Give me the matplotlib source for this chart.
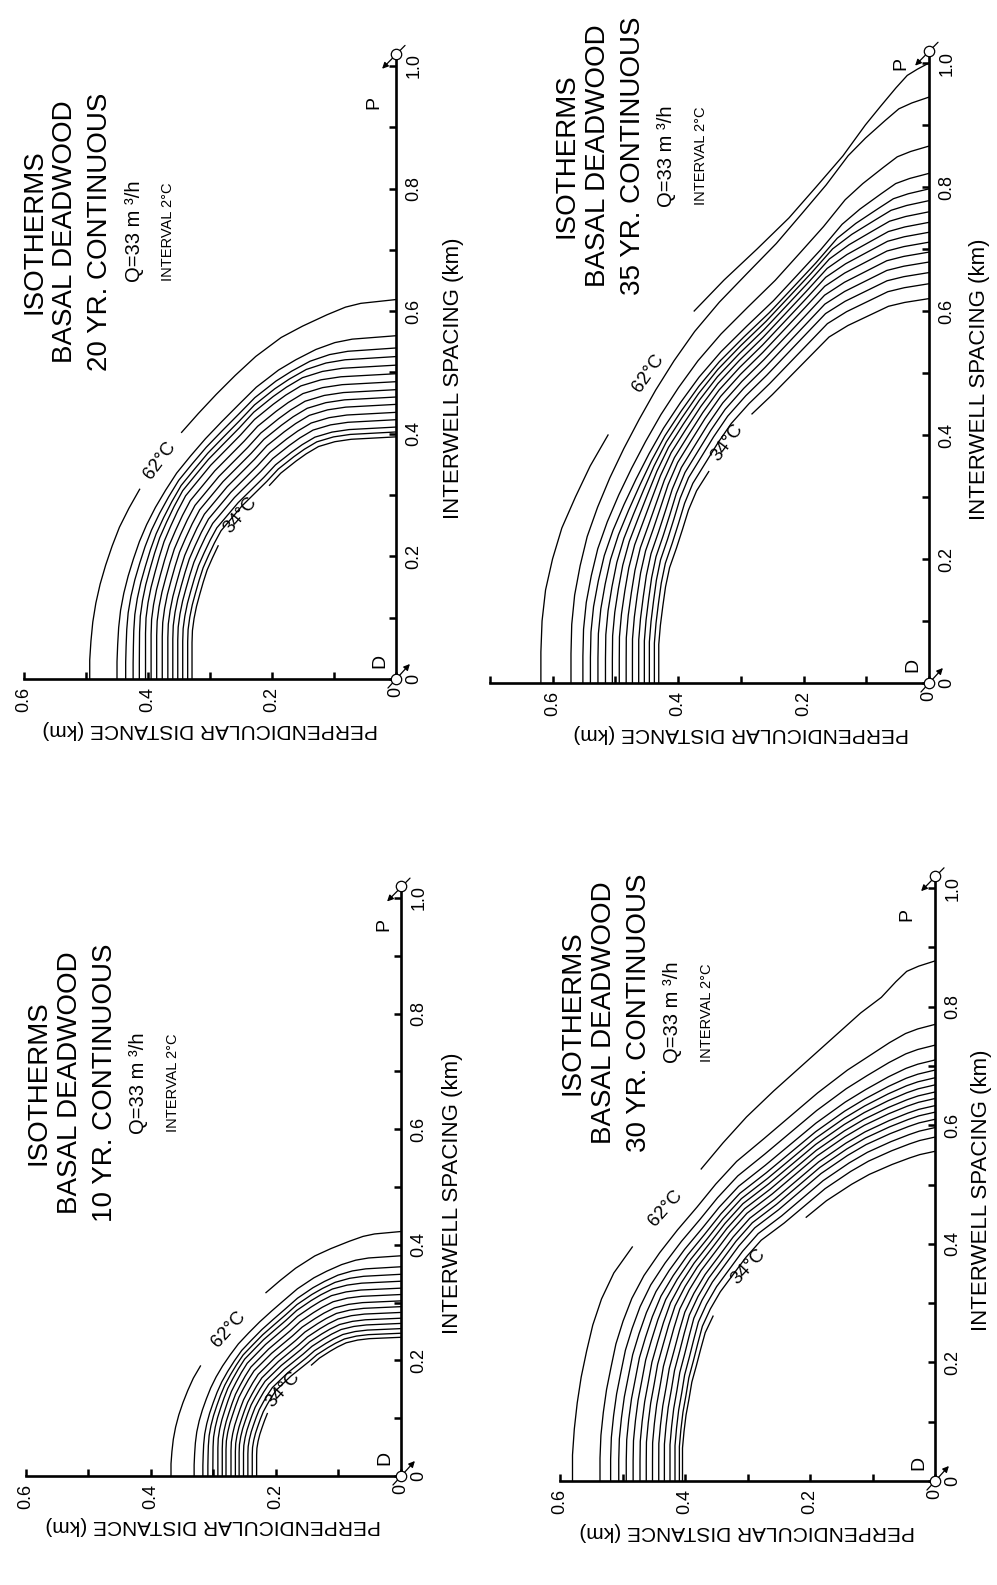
import numpy as np
import matplotlib
matplotlib.use('Agg')
import matplotlib.pyplot as plt
from matplotlib.transforms import offset_copy

W, H = 997, 1585
FONT = ['Liberation Sans', 'DejaVu Sans']

# isotherms, outermost first (interval 2 C)
temps = [62, 60, 58, 56, 54, 52, 50, 48, 46, 44, 42, 40, 38, 36, 34]

# intercepts of each isotherm: b on the perpendicular axis, a on the interwell axis (km)
b_10 = [0.368, 0.331, 0.317, 0.309, 0.301, 0.293, 0.286, 0.280, 0.272, 0.265, 0.259, 0.252, 0.245, 0.238, 0.231]
a_10 = [0.423, 0.381, 0.362, 0.349, 0.337, 0.325, 0.314, 0.303, 0.293, 0.283, 0.273, 0.264, 0.255, 0.247, 0.240]
b_20 = [0.494, 0.450, 0.436, 0.424, 0.414, 0.404, 0.395, 0.386, 0.377, 0.368, 0.360, 0.352, 0.344, 0.336, 0.329]
a_20 = [0.619, 0.560, 0.540, 0.526, 0.512, 0.498, 0.485, 0.472, 0.460, 0.448, 0.435, 0.423, 0.411, 0.403, 0.395]
b_30 = [0.580, 0.536, 0.519, 0.506, 0.494, 0.483, 0.472, 0.462, 0.452, 0.442, 0.433, 0.424, 0.416, 0.409, 0.404]
a_30 = [0.877, 0.770, 0.735, 0.710, 0.693, 0.680, 0.668, 0.656, 0.645, 0.633, 0.622, 0.610, 0.596, 0.580, 0.556]
b_35 = [0.619, 0.571, 0.552, 0.540, 0.528, 0.516, 0.505, 0.494, 0.483, 0.473, 0.463, 0.454, 0.446, 0.438, 0.431]
a_35 = [1.000, 0.945, 0.866, 0.822, 0.797, 0.778, 0.760, 0.743, 0.727, 0.711, 0.695, 0.679, 0.662, 0.644, 0.620]

# traced isotherm shapes: perp / b read at spacing / a = u
u_grid = [0, 0.05, 0.1, 0.15, 0.2, 0.25, 0.3, 0.35, 0.4, 0.45, 0.5, 0.55,
          0.6, 0.65, 0.7, 0.75, 0.8, 0.85, 0.9, 0.93, 0.96, 0.98, 0.99, 1.0]
round_out = [1, 1, 0.996, 0.99, 0.98, 0.966, 0.948, 0.927, 0.903, 0.872, 0.837, 0.795,
             0.75, 0.70, 0.645, 0.587, 0.525, 0.458, 0.375, 0.305, 0.225, 0.165, 0.115, 0]
round_in = [1, 1, 1, 1, 0.998, 0.99, 0.978, 0.962, 0.945, 0.926, 0.90, 0.872,
            0.84, 0.79, 0.74, 0.68, 0.62, 0.565, 0.49, 0.44, 0.38, 0.30, 0.22, 0]
out30 = [1, 1, 0.995, 0.987, 0.976, 0.961, 0.944, 0.92, 0.886, 0.835, 0.775, 0.71,
         0.645, 0.585, 0.52, 0.445, 0.365, 0.285, 0.205, 0.148, 0.108, 0.078, 0.045, 0]
in30 = [1, 1, 1, 0.994, 0.986, 0.974, 0.963, 0.945, 0.928, 0.91, 0.879, 0.84,
        0.79, 0.74, 0.68, 0.59, 0.51, 0.43, 0.33, 0.26, 0.17, 0.10, 0.06, 0]
out35 = [1, 1, 0.997, 0.988, 0.970, 0.946, 0.911, 0.873, 0.827, 0.775, 0.722, 0.668,
         0.605, 0.528, 0.443, 0.361, 0.291, 0.222, 0.164, 0.125, 0.085, 0.056, 0.03, 0]
in35 = [1, 1, 1, 0.994, 0.985, 0.975, 0.96, 0.935, 0.912, 0.89, 0.86, 0.815,
        0.77, 0.72, 0.655, 0.58, 0.51, 0.44, 0.37, 0.30, 0.21, 0.15, 0.09, 0]
# how much each isotherm follows the outer (62 C) shape rather than the inner one
w_10 = [1, 0.6, 0.4, 0.25, 0.1, 0, 0, 0, 0, 0, 0, 0, 0, 0, 0]
w_20 = [1, 0.6, 0.4, 0.25, 0.1, 0, 0, 0, 0, 0, 0, 0, 0, 0, 0]
w_30 = [1, 0.55, 0.45, 0.37, 0.3, 0.24, 0.18, 0.13, 0.09, 0.06, 0.03, 0, 0, 0, 0]
w_35 = [1, 0.7, 0.62, 0.55, 0.45, 0.35, 0.27, 0.2, 0.14, 0.09, 0.05, 0.02, 0, 0, 0]

spacing_ticks = [0, 0.2, 0.4, 0.6, 0.8, 1.0]
spacing_labels = ['0', '0.2', '0.4', '0.6', '0.8', '1.0']
perp_ticks = [0, 0.2, 0.4, 0.6]
perp_labels = ['0', '0.2', '0.4', '0.6']

panels = [
    dict(yr=20, b=b_20, a=a_20, w=w_20, fo=round_out, fi=round_in,
         gap62=(0.5, 0.65), gap34=(0.55, 0.8), ox=396, oy=679, kx=620, ky=613,
         perp_end=0.6, title_s=0.73, p_lab=(0.035, 0.94), xlab_dx=57),
    dict(yr=35, b=b_35, a=a_35, w=w_35, fo=out35, fi=in35,
         gap62=(0.4, 0.6), gap34=(0.55, 0.7), ox=929, oy=683, kx=627, ky=620,
         perp_end=0.7, title_s=0.85, p_lab=(0.045, 1.0), xlab_dx=50),
    dict(yr=10, b=b_10, a=a_10, w=w_10, fo=round_out, fi=round_in,
         gap62=(0.45, 0.75), gap34=(0.45, 0.8), ox=401, oy=1476, kx=625, ky=578,
         perp_end=0.6, title_s=0.68, p_lab=(0.028, 0.955), xlab_dx=52),
    dict(yr=30, b=b_30, a=a_30, w=w_30, fo=out30, fi=in30,
         gap62=(0.45, 0.6), gap34=(0.5, 0.8), ox=935, oy=1481, kx=625, ky=593,
         perp_end=0.6, title_s=0.79, p_lab=(0.045, 0.955), xlab_dx=46),
]

title_dx = [362, 331, 296, 262, 228]   # px left of the D well
title_fs = [20, 20, 20, 14.5, 10.5]
well_s = 1.02
u = np.array(u_grid)

fig = plt.figure(figsize=(W / 100, H / 100), dpi=100)
fig.patch.set_facecolor('white')

for P in panels:
    ox, oy, kx, ky = P['ox'], P['oy'], P['kx'], P['ky']
    pmin, pmax, smin, smax = -0.04, 0.74, -0.04, 1.06
    left, right = ox - pmax * kx, ox - pmin * kx
    top, bottom = oy - smax * ky, oy - smin * ky
    ax = fig.add_axes([left / W, 1 - bottom / H, (right - left) / W, (bottom - top) / H])
    ax.set_xlim(pmax, pmin)
    ax.set_ylim(smin, smax)
    ax.patch.set_visible(False)
    ax.spines['top'].set_visible(False)
    ax.spines['left'].set_visible(False)
    ax.spines['bottom'].set_position(('data', 0))
    ax.spines['bottom'].set_bounds(0, P['perp_end'])
    ax.spines['right'].set_position(('data', 0))
    ax.spines['right'].set_bounds(0, well_s)
    for sp in ('bottom', 'right'):
        ax.spines[sp].set_linewidth(1.9)
    ax.xaxis.set_ticks_position('bottom')
    ax.yaxis.set_ticks_position('right')
    ax.set_xticks(perp_ticks, labels=perp_labels)
    ax.set_xticks(np.arange(0.1, P['perp_end'] + 0.01, 0.2), minor=True)
    ax.set_yticks(spacing_ticks, labels=spacing_labels)
    ax.set_yticks(np.arange(0.1, 1.0, 0.2), minor=True)
    ax.tick_params(which='both', direction='in', length=5, width=1.8)
    ax.tick_params(axis='x', labelrotation=90, pad=6)
    ax.tick_params(axis='y', labelrotation=90, pad=7)
    for lab in ax.get_xticklabels() + ax.get_yticklabels():
        lab.set_fontfamily(FONT)
        lab.set_fontsize(13)
    for lab in ax.get_yticklabels():
        lab.set_verticalalignment('center')

    # isotherms
    fo, fi = np.array(P['fo']), np.array(P['fi'])
    for i, t in enumerate(temps):
        f = P['w'][i] * fo + (1 - P['w'][i]) * fi
        p = P['b'][i] * f
        s = P['a'][i] * u
        kw = dict(color='black', lw=0.95, clip_on=False)
        if t in (62, 34):
            lo, hi = P['gap62'] if t == 62 else P['gap34']
            m1, m2 = u <= lo + 1e-6, u >= hi - 1e-6
            ax.plot(p[m1], s[m1], **kw)
            ax.plot(p[m2], s[m2], **kw)
            d1 = ax.transData.transform((p[m1][-1], s[m1][-1]))
            d2 = ax.transData.transform((p[m2][0], s[m2][0]))
            ang = np.degrees(np.arctan2(d2[1] - d1[1], d2[0] - d1[0]))
            um = (lo + hi) / 2
            ax.text(P['b'][i] * np.interp(um, u, f), P['a'][i] * um, f'{t}°C', rotation=ang,
                    rotation_mode='anchor', ha='center', va='center', fontsize=13.5, family=FONT)
        else:
            ax.plot(p, s, **kw)

    # wells D and P with flow arrows
    for ws, tail, tip in ((0, (-5.8, -6.5), (10, 10.8)), (well_s, (6.5, 6), (-10, -10.8))):
        ax.annotate('', xy=(0, ws), xycoords=offset_copy(ax.transData, fig=fig, x=tip[0], y=tip[1], units='points'),
                    xytext=(0, ws), textcoords=offset_copy(ax.transData, fig=fig, x=tail[0], y=tail[1], units='points'),
                    arrowprops=dict(arrowstyle='-|>', color='black', lw=0.9, mutation_scale=9,
                                    shrinkA=0, shrinkB=0))
        ax.plot([0], [ws], marker='o', ms=7.5, mfc='white', mec='black', mew=0.9, zorder=5, clip_on=False)
    ax.annotate('D', xy=(0, 0), xytext=(-11.5, 13), textcoords='offset points', rotation=90,
                ha='center', va='center', fontsize=14, family=FONT)
    ax.text(P['p_lab'][0], P['p_lab'][1], 'P', rotation=90, ha='center', va='center',
            fontsize=14, family=FONT)

    # axis titles
    ax.annotate('INTERWELL SPACING (km)', xy=(0, 0.49), xytext=(P['xlab_dx'] * 0.72, 0),
                textcoords='offset points', rotation=90, ha='center', va='center',
                fontsize=16, family=FONT)
    ax.annotate('PERPENDICULAR DISTANCE (km)', xy=(0.30, 0), xytext=(0, -36), textcoords='offset points',
                rotation=180, ha='center', va='center', fontsize=15, family=FONT)

    # panel title block
    lines = ['ISOTHERMS', 'BASAL DEADWOOD', f"{P['yr']} YR. CONTINUOUS", 'Q=33 m ³/h', 'INTERVAL 2°C']
    for txt, dx, fs in zip(lines, title_dx, title_fs):
        ax.annotate(txt, xy=(0, P['title_s']), xytext=(-dx * 0.72, 0), textcoords='offset points',
                    rotation=90, ha='center', va='center', fontsize=fs, family=FONT)

fig.savefig('out.png', dpi=100, facecolor='white')
